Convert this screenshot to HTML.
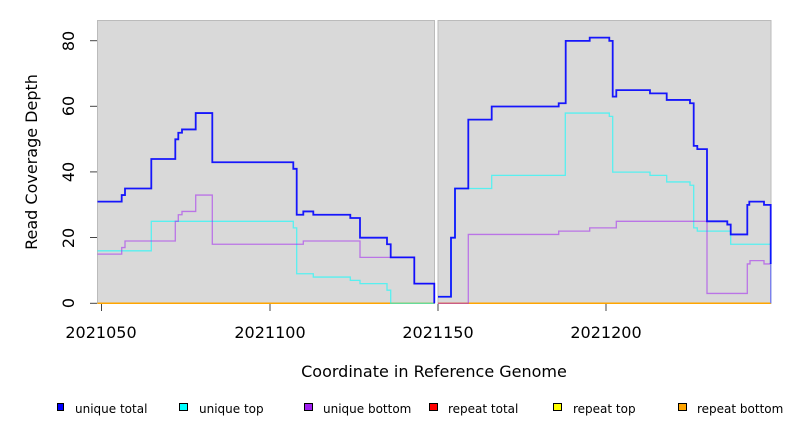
<!DOCTYPE html>
<html><head><meta charset="utf-8"><style>
body{margin:0;background:#fff;width:792px;height:432px;overflow:hidden}
svg text{font-family:"DejaVu Sans","Liberation Sans",sans-serif}
</style></head><body>
<svg id="s" width="792" height="432" xmlns="http://www.w3.org/2000/svg">
<rect x="97.5" y="20.5" width="337" height="283" fill="#d9d9d9" stroke="#bbb" stroke-width="1"/>
<rect x="438" y="20.5" width="333" height="283" fill="#d9d9d9" stroke="#bbb" stroke-width="1"/>
<g stroke="#444" stroke-width="1">
<line x1="90" y1="40.7" x2="97" y2="40.7"/><line x1="90" y1="106.3" x2="97" y2="106.3"/>
<line x1="90" y1="171.9" x2="97" y2="171.9"/><line x1="90" y1="237.5" x2="97" y2="237.5"/>
<line x1="90" y1="303.3" x2="97" y2="303.3"/>
<line x1="101.5" y1="304" x2="101.5" y2="311"/><line x1="270" y1="304" x2="270" y2="311"/>
<line x1="438" y1="304" x2="438" y2="311"/><line x1="606" y1="304" x2="606" y2="311"/>
</g>
<g font-size="16" fill="#000" text-anchor="middle">
<text transform="translate(74,303) rotate(-90)">0</text>
<text transform="translate(74,238) rotate(-90)">20</text>
<text transform="translate(74,172) rotate(-90)">40</text>
<text transform="translate(74,106) rotate(-90)">60</text>
<text transform="translate(74,41) rotate(-90)">80</text>
<text x="101" y="338">2021050</text><text x="270" y="338">2021100</text>
<text x="438" y="338">2021150</text><text x="606" y="338">2021200</text>
<text x="434" y="377">Coordinate in Reference Genome</text>
<text transform="translate(37,162) rotate(-90)">Read Coverage Depth</text>
</g>
<g font-size="12" fill="#000">
<rect x="57.5" y="403.5" width="6" height="7" fill="#0000ff" stroke="#000"/><text x="75" y="413">unique total</text>
<rect x="179.5" y="403.5" width="8" height="7" fill="#00ffff" stroke="#000"/><text x="199" y="413">unique top</text>
<rect x="304.5" y="403.5" width="8" height="7" fill="#a020f0" stroke="#000"/><text x="323" y="413">unique bottom</text>
<rect x="429.5" y="403.5" width="8" height="7" fill="#ff0000" stroke="#000"/><text x="448" y="413">repeat total</text>
<rect x="553.5" y="403.5" width="8" height="7" fill="#ffff00" stroke="#000"/><text x="573" y="413">repeat top</text>
<rect x="678.5" y="403.5" width="8" height="7" fill="#ffa500" stroke="#000"/><text x="697" y="413">repeat bottom</text>
</g>
<g id="lines"></g>
</svg>
<script>
function Y(v){return 303.3-3.28*v}
function path(start,steps){var x=start,d="M"+x+","+Y(steps[0][1]);for(var i=0;i<steps.length;i++){var s=steps[i];d+=" L"+s[0]+","+Y(s[1]);if(i+1<steps.length)d+=" L"+s[0]+","+Y(steps[i+1][1]);}return d}
var g=document.getElementById("lines");
function add(d,c,w,o){var p=document.createElementNS("http://www.w3.org/2000/svg","path");p.setAttribute("d",d);p.setAttribute("fill","none");p.setAttribute("stroke",c);p.setAttribute("stroke-width",w);p.setAttribute("stroke-opacity",o);g.appendChild(p)}
// orange baseline
add("M97.5,303.3 L434.3,303.3 M438,303.3 L771,303.3","#ffa500",1.5,1);
var cyL=[[151.3,16],[293.3,25],[296.7,23],[313.3,9],[350.3,8],[360,7],[387,6],[390.7,4],[390.7,0],[434.3,0]];
var cyR=[[451,2],[455,20],[491.7,35],[565.3,39],[609.3,58],[612.7,57],[650,40],[666.7,39],[690,37],[693.7,36],[697.3,23],[730.7,22],[770.7,18],[770.7,0]];
var puL=[[121.7,15],[125,17],[175.3,19],[178.3,25],[182,27],[195.7,28],[212.3,33],[303.3,18],[360,19],[414.3,14],[434.3,6],[434.3,0]];
var puR=[[468.3,0],[558.7,21],[589.7,22],[616.3,23],[707,25],[747.3,3],[750,12],[764,13],[770.7,12],[770.7,0]];
var blL=[[121.7,31],[125,33],[151.3,35],[175.3,44],[178.3,50],[182,52],[195.7,53],[212.3,58],[293.3,43],[296.7,41],[303.3,27],[313.3,28],[350.3,27],[360,26],[387,20],[390.7,18],[414.3,14],[434.3,6],[434.3,0]];
var blR=[[451,2],[455,20],[468.3,35],[491.7,56],[558.7,60],[565.7,61],[589.7,80],[609.3,81],[612.7,80],[616.3,63],[650,65],[666.7,64],[690,62],[693.7,61],[697.3,48],[707,47],[727.3,25],[730.7,24],[747.3,21],[749.3,30],[764,31],[770.7,30],[770.7,12]];
add(path(97.5,cyL),"#00ffff",1.3,0.6);add(path(438,cyR),"#00ffff",1.3,0.6);
add(path(97.5,puL),"#a020f0",1.3,0.55);add(path(438,puR),"#a020f0",1.3,0.55);
add(path(97.5,blL),"#0000ff",1.8,0.9);add(path(438,blR),"#0000ff",1.8,0.9);
</script>
</body></html>
